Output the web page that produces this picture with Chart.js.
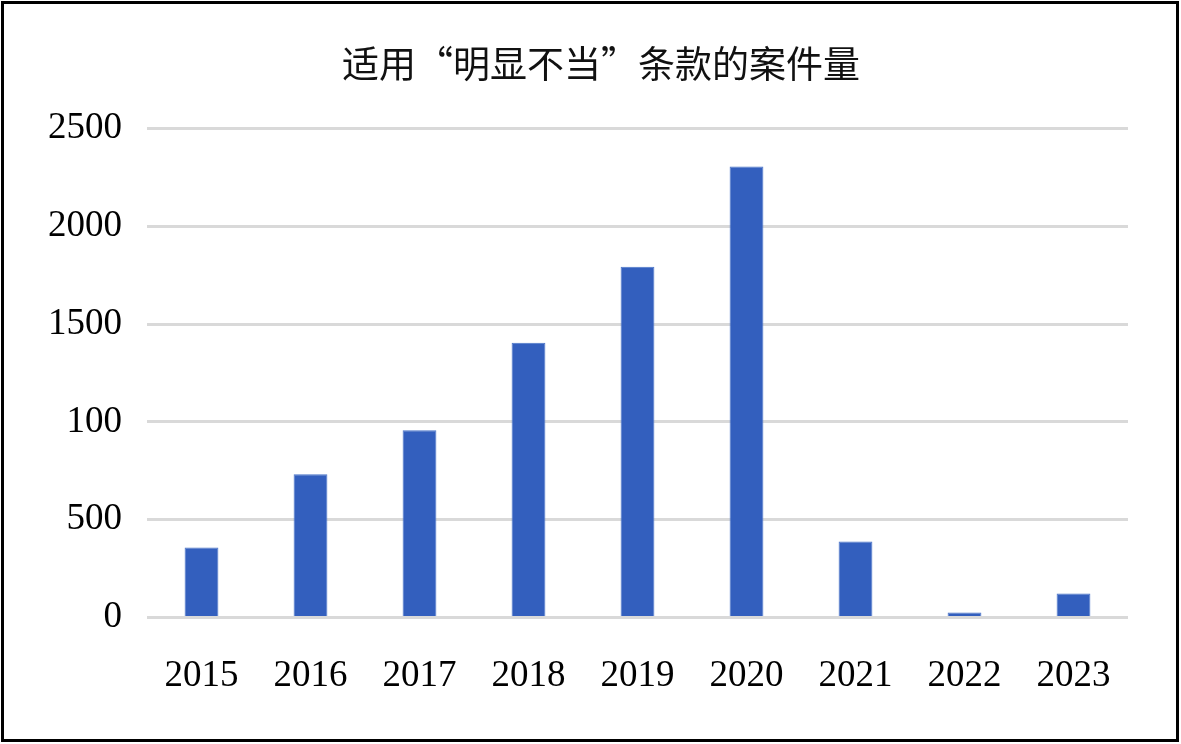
<!DOCTYPE html>
<html lang="zh">
<head>
    <meta charset="UTF-8">
    <title>适用“明显不当”条款的案件量</title>
    <script src="https://cdn.jsdelivr.net/npm/chart.js"></script>
    <style>
        html, body { margin: 0; padding: 0; background: #fff; }
        .frame {
            position: absolute;
            left: 1px; top: 1px;
            width: 1172px; height: 735px;
            border: 3px solid #000;
        }
    </style>
</head>
<body>
<div class="frame">
    <canvas id="caseChart" width="1172" height="735"></canvas>
</div>
<script>
    // 年份
    const years = ['2015', '2016', '2017', '2018', '2019', '2020', '2021', '2022', '2023'];
    // 案件量
    const caseCounts = [358, 733, 958, 1404, 1793, 2305, 389, 26, 123];
    // y轴刻度（原图 1000 处写作 100）
    const yTickValues = [0, 500, 1000, 1500, 2000, 2500];
    const yTickLabels = ['0', '500', '100', '1500', '2000', '2500'];

    const serif = '"Liberation Serif", "Times New Roman", serif';

    // y轴放窄后，把它的左边界拉回画布左侧，避免刻度文字被裁掉
    const widenYAxis = {
        id: 'widenYAxis',
        afterLayout(chart) {
            chart.scales.y.left = 0;
        }
    };

    new Chart(document.getElementById('caseChart'), {
        type: 'bar',
        data: {
            labels: years,
            datasets: [{
                data: caseCounts,
                backgroundColor: '#335fbe',
                borderColor: '#4a74c8',
                borderWidth: 1,
                barPercentage: 0.62,
                categoryPercentage: 0.5
            }]
        },
        options: {
            responsive: false,
            animation: false,
            layout: { padding: { left: 70, right: 48, top: 0, bottom: 13 } },
            plugins: {
                legend: { display: false },
                tooltip: { enabled: false },
                title: {
                    display: true,
                    text: '适用“明显不当”条款的案件量',
                    color: '#111',
                    font: { family: '"Noto Sans CJK SC", sans-serif', size: 37, weight: 'normal' },
                    padding: { top: 38, bottom: 42 }
                }
            },
            scales: {
                x: {
                    grid: { display: false },
                    border: { display: false },
                    ticks: {
                        color: '#000',
                        padding: 28,
                        font: { family: serif, size: 37 }
                    }
                },
                y: {
                    min: 0,
                    max: 2500,
                    afterBuildTicks: function (axis) {
                        axis.ticks = yTickValues.map(v => ({ value: v }));
                    },
                    afterFit: function (axis) {
                        axis.width = 73;
                    },
                    grid: { color: '#d9d9d9', lineWidth: 3, drawTicks: false },
                    border: { display: false },
                    ticks: {
                        color: '#000',
                        padding: 25,
                        font: { family: serif, size: 37 },
                        callback: function (value) {
                            const i = yTickValues.indexOf(value);
                            return i >= 0 ? yTickLabels[i] : '';
                        }
                    }
                }
            }
        },
        plugins: [widenYAxis]
    });
</script>
</body>
</html>
